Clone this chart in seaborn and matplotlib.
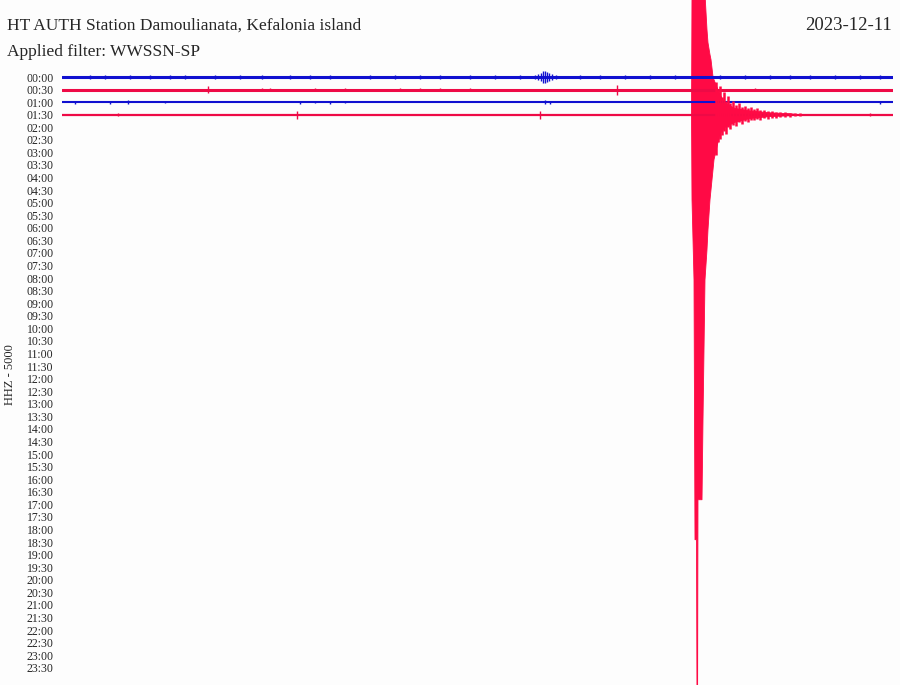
import matplotlib
matplotlib.use("Agg")
import matplotlib.pyplot as plt
import seaborn as sns
import pandas as pd

# helicorder rows (30 min each), labels on the left
row_labels = ["00:00", "00:30", "01:00", "01:30", "02:00", "02:30", "03:00", "03:30",
              "04:00", "04:30", "05:00", "05:30", "06:00", "06:30", "07:00", "07:30",
              "08:00", "08:30", "09:00", "09:30", "10:00", "10:30", "11:00", "11:30",
              "12:00", "12:30", "13:00", "13:30", "14:00", "14:30", "15:00", "15:30",
              "16:00", "16:30", "17:00", "17:30", "18:00", "18:30", "19:00", "19:30",
              "20:00", "20:30", "21:00", "21:30", "22:00", "22:30", "23:00", "23:30"]

# rows that have recorded data so far
trace_rows = [0, 1, 2, 3]
trace_colors = ["#1010d0", "#ee0a46", "#1010d0", "#ee0a46"]
trace_widths = [2.2, 2.2, 1.5, 1.6]

# spikes on each trace: minute within row, half amplitude (in row heights)
spike_min_0 = [1.01, 1.55, 2.45, 3.18, 3.90, 4.44, 5.52, 6.43, 7.22, 8.23, 8.95, 9.68,
               11.12, 12.02, 12.92, 13.65, 14.73, 15.63, 16.53,
               17.08, 17.18, 17.29, 17.36, 17.44, 17.51, 17.58, 17.69, 17.83,
               18.70, 19.42, 20.32, 21.23, 22.13, 23.75, 24.66, 25.56, 26.28, 27.00,
               27.91, 28.81, 29.53]
spike_amp_0 = [0.14, 0.16, 0.12, 0.15, 0.13, 0.16, 0.14, 0.12, 0.15, 0.13, 0.16, 0.14,
               0.12, 0.15, 0.13, 0.14, 0.12, 0.15, 0.13,
               0.16, 0.24, 0.32, 0.48, 0.50, 0.40, 0.32, 0.24, 0.16,
               0.13, 0.15, 0.12, 0.14, 0.13, 0.15, 0.12, 0.16, 0.14, 0.13,
               0.15, 0.12, 0.14]
spike_min_1 = [5.27, 7.22, 7.51, 9.13, 10.22, 12.20, 12.92, 13.65, 14.73, 20.04, 25.0]
spike_amp_1 = [0.26, 0.10, 0.10, 0.10, 0.12, 0.10, 0.10, 0.10, 0.10, 0.40, 0.10]
spike_min_2 = [0.47, 1.73, 2.38, 3.72, 8.59, 9.13, 9.68, 10.22, 17.44, 17.62, 29.53]
spike_amp_2 = [0.12, 0.12, 0.14, 0.10, 0.12, 0.10, 0.12, 0.10, 0.14, 0.12, 0.12]
spike_min_3 = [2.02, 8.48, 17.26, 29.17]
spike_amp_3 = [0.10, 0.32, 0.32, 0.10]

# the earthquake on the 01:30 row: minute, amplitude up / down (row heights)
quake_row = 3
quake_min = [22.726, 22.744, 22.816, 22.852, 22.906, 22.924, 22.946, 22.960, 23.105,
             23.141, 23.213, 23.285, 23.321, 23.394, 23.430, 23.502, 23.538, 23.755,
             23.935, 24.296, 24.838, 25.560, 26.282, 26.643]
quake_up = [0.0, 9.6, 9.6, 9.6, 9.6, 9.6, 9.6, 9.6, 9.6,
            9.6, 9.6, 6.76, 5.73, 4.77, 4.38, 3.02, 2.78, 1.6,
            0.9, 0.5, 0.3, 0.15, 0.08, 0.0]
quake_down = [0.0, 6.76, 13.13, 33.81, 33.81, 46.5, 46.5, 30.63, 30.63,
              24.26, 13.13, 10.74, 9.15, 6.76, 5.97, 4.38, 3.58, 1.5,
              1.0, 0.6, 0.3, 0.15, 0.08, 0.0]

# jagged coda after the main shaking
coda_min = [23.610, 23.682, 23.755, 23.827, 23.899, 23.971, 24.043, 24.116, 24.224,
            24.332, 24.440, 24.549, 24.657, 24.765, 24.874, 24.982, 25.090, 25.199,
            25.343, 25.487, 25.632, 25.776, 25.921, 26.101, 26.282, 26.462, 26.643]
coda_up = [2.6, 2.0, 2.3, 1.4, 1.8, 1.1, 1.5, 0.9, 1.1, 0.8, 0.9, 0.6, 0.7, 0.5,
           0.6, 0.45, 0.5, 0.35, 0.4, 0.3, 0.3, 0.22, 0.25, 0.18, 0.16, 0.12, 0.1]
coda_down = [3.2, 2.2, 1.9, 1.6, 1.3, 1.5, 1.0, 1.1, 0.8, 0.9, 0.6, 0.7, 0.5, 0.55,
             0.4, 0.45, 0.35, 0.4, 0.3, 0.32, 0.25, 0.25, 0.2, 0.18, 0.15, 0.12, 0.1]

spike_min = [spike_min_0, spike_min_1, spike_min_2, spike_min_3]
spike_amp = [spike_amp_0, spike_amp_1, spike_amp_2, spike_amp_3]

sns.set_theme(style="white")
plt.rcParams["font.family"] = ["Liberation Serif", "DejaVu Serif"]

fig = plt.figure(figsize=(9, 6.85), dpi=100, facecolor="#fdfdfd")
# axes spans the full height so the quake is clipped at the image edges
ax = fig.add_axes([62 / 900, 0, 831 / 900, 1])
ax.set_facecolor("#fdfdfd")

for r, c, lw in zip(trace_rows, trace_colors, trace_widths):
    base = pd.DataFrame({"minute": [0, 30], "row": [r, r]})
    sns.lineplot(data=base, x="minute", y="row", color=c, lw=lw, ax=ax)
    mins = spike_min[r]
    amps = spike_amp[r]
    ax.vlines(mins, [r - a for a in amps], [r + a for a in amps], color=c, lw=1.0)

quake_color = "#ff0a45"
ax.fill_between(quake_min,
                [quake_row - u for u in quake_up],
                [quake_row + d for d in quake_down],
                color=quake_color, lw=0.6, edgecolor=quake_color)
ax.vlines(coda_min, [quake_row - u for u in coda_up],
          [quake_row + d for d in coda_down], color=quake_color, lw=1.8)

ax.set_xlim(0, 30)
ax.set_ylim((685 - 77) / 12.57, -77 / 12.57)
ax.set_yticks(range(len(row_labels)))
ax.set_yticklabels(row_labels, fontsize=8.5)
ax.tick_params(axis="y", length=0, pad=6)
ax.set_xticks([])
ax.set_xlabel("")
ax.set_ylabel("")
for s in ax.spines.values():
    s.set_visible(False)

fig.text(7 / 900, 1 - 26 / 685, "HT AUTH Station Damoulianata, Kefalonia island",
         fontsize=12.5, va="center", ha="left")
fig.text(7 / 900, 1 - 52 / 685, "Applied filter: WWSSN-SP",
         fontsize=12.5, va="center", ha="left")
fig.text(892 / 900, 1 - 26 / 685, "2023-12-11",
         fontsize=13.5, va="center", ha="right")
fig.text(10 / 900, 1 - 375 / 685, "HHZ - 5000", fontsize=9, rotation=90,
         va="center", ha="center")

fig.savefig("out.png", dpi=100, facecolor=fig.get_facecolor())
